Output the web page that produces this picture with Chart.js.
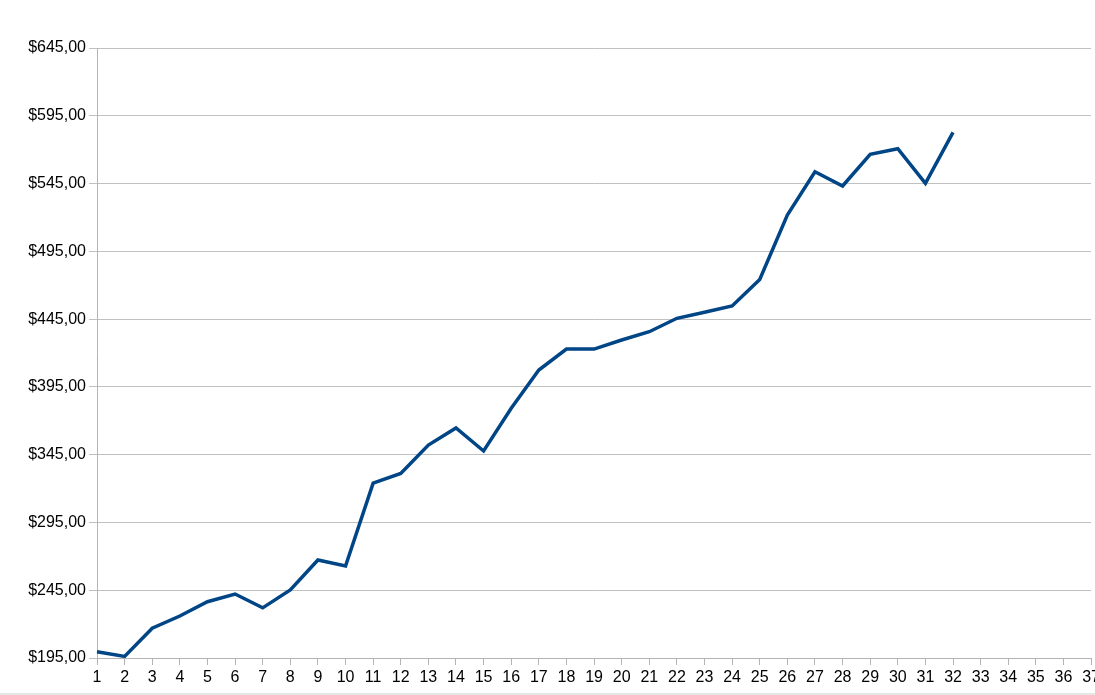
<!DOCTYPE html>
<html>
<head>
<meta charset="utf-8">
<script src="https://cdn.jsdelivr.net/npm/chart.js@4/dist/chart.umd.min.js"></script>
<style>
  html, body { margin: 0; padding: 0; background: #fff; overflow: hidden; }
  #wrap { position: relative; width: 1095px; height: 695px; overflow: hidden; }
  #box { position: absolute; left: 0; top: 0; width: 1103px; height: 695px; }
  #edge { position: absolute; left: 0; bottom: 0; width: 1095px; height: 2px; background: #e6e6e6; }
</style>
</head>
<body>
<div id="wrap">
  <div id="box"><canvas id="c" width="1103" height="695"></canvas></div>
  <div id="edge"></div>
</div>
<script>
const categories = ["1","2","3","4","5","6","7","8","9","10","11","12","13","14","15","16","17","18","19","20","21","22","23","24","25","26","27","28","29","30","31","32","33","34","35","36","37"];
const values = [199.6, 196.2, 217, 226, 236.5, 242.2, 232, 245.2, 267.3, 262.9, 324, 331.2, 352.1, 364.7, 347.7, 379.2, 407.4, 422.9, 422.9, 429.6, 435.7, 445.6, 450, 454.7, 474.3, 521.8, 553.7, 543.2, 566.6, 570.7, 545.2, 582.8];
const yMin = 195, yMax = 645, yStep = 50;

const fmt = v => '$' + v.toFixed(2).replace('.', ',');

new Chart(document.getElementById('c'), {
  type: 'line',
  data: {
    labels: categories,
    datasets: [{
      data: values,
      borderColor: '#004586',
      backgroundColor: '#004586',
      borderWidth: 3.5,
      pointRadius: 0,
      tension: 0,
      fill: false
    }]
  },
  options: {
    responsive: false,
    animation: false,
    layout: { padding: { top: 48, left: 0, right: 0, bottom: 0 } },
    plugins: { legend: { display: false }, tooltip: { enabled: false } },
    scales: {
      x: {
        type: 'category',
        offset: false,
        grid: { display: true, drawOnChartArea: false, drawTicks: true, tickLength: 7, color: '#b3b3b3' },
        border: { display: true, color: '#b3b3b3', width: 1 },
        ticks: { color: '#000', font: { family: 'Liberation Sans', size: 16 }, padding: 3, maxRotation: 0, autoSkip: false },
        afterFit: s => { s.height = 37; }
      },
      y: {
        min: yMin, max: yMax,
        grid: { color: '#c0c0c0', drawTicks: true, tickLength: 8 },
        border: { display: true, color: '#b3b3b3', width: 1 },
        ticks: { stepSize: yStep, color: '#000', font: { family: 'Liberation Sans', size: 16 }, padding: 3, callback: v => fmt(v) },
        afterFit: s => { s.width = 97; }
      }
    }
  }
});
</script>
</body>
</html>
